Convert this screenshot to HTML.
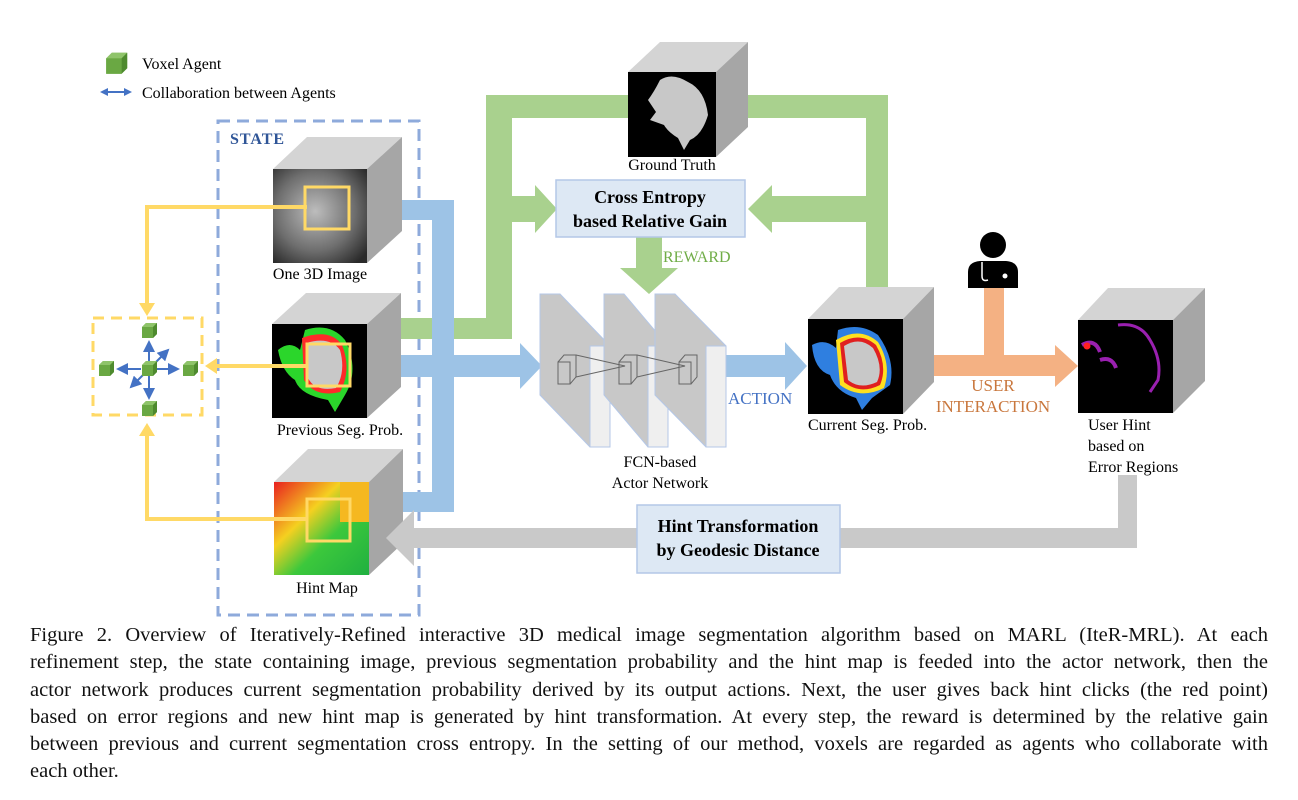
<!DOCTYPE html>
<html><head><meta charset="utf-8"><style>
body{margin:0;background:#fff;width:1298px;height:800px;overflow:hidden;position:relative;font-family:"Liberation Serif",serif}
svg{position:absolute;left:0;top:0}
.cap{position:absolute;left:30px;width:1238px;font-size:20.5px;line-height:27.3px;top:622px;color:#111}
.cap div{text-align:justify;text-align-last:justify;white-space:nowrap;overflow:visible}
.cap div.l{text-align-last:left}
</style></head><body>
<svg width="1298" height="620" viewBox="0 0 1298 620" font-family="Liberation Serif, serif">
<defs>
<g id="agent"><polygon points="-7,-4 -3,-8 8,-8 8,3 4,7 -7,7" fill="#70ad47"/><polygon points="-7,-4 -3,-8 8,-8 4,-4" fill="#8fc46a"/><polygon points="4,-4 8,-8 8,3 4,7" fill="#4e8a2e"/><rect x="-7" y="-4" width="11" height="11" fill="#6aa843"/></g>
<marker id="ba" markerWidth="6" markerHeight="6" refX="5" refY="3" orient="auto"><path d="M0,0L6,3L0,6z" fill="#4472c4"/></marker>
<marker id="bs" markerWidth="4" markerHeight="4" refX="3" refY="2" orient="auto-start-reverse"><path d="M0,0L4,2L0,4z" fill="#4472c4"/></marker>
</defs>
<!-- legend -->
<g transform="translate(116,64) scale(1.4)"><use href="#agent"/></g>
<text x="142" y="69" font-size="16">Voxel Agent</text>
<line x1="102" y1="92" x2="130" y2="92" stroke="#4472c4" stroke-width="2" marker-end="url(#bs)" marker-start="url(#bs)"/>
<text x="142" y="98" font-size="16">Collaboration between Agents</text>
<!-- STATE box -->
<rect x="218" y="121" width="201" height="494" fill="none" stroke="#8eaadb" stroke-width="3" stroke-dasharray="12,7"/>
<text x="230" y="144" font-size="16" font-weight="bold" fill="#2f5597" letter-spacing="1">STATE</text>
<!-- green flows -->
<g fill="#a9d18e">
<rect x="383" y="318" width="129" height="21"/>
<rect x="486" y="95" width="26" height="244"/>
<rect x="486" y="95" width="145" height="23"/>
<rect x="512" y="196" width="25" height="26"/>
<polygon points="535,185 557,209 535,233"/>
<rect x="716" y="95" width="172" height="23"/>
<rect x="866" y="95" width="22" height="195"/>
<rect x="770" y="196" width="96" height="26"/>
<polygon points="772,185 748,209 772,233"/>
<rect x="636" y="237" width="26" height="33"/>
<polygon points="620,268 678,268 649,294"/>
</g>
<text x="663" y="262" font-size="16" fill="#70ad47">REWARD</text>
<!-- blue flows -->
<g fill="#9dc3e6">
<rect x="383" y="200" width="71" height="20"/>
<rect x="432" y="200" width="22" height="312"/>
<rect x="383" y="492" width="71" height="20"/>
<rect x="383" y="355" width="140" height="22"/>
<polygon points="520,343 542,366 520,389"/>
<rect x="726" y="355" width="62" height="22"/>
<polygon points="785,342 807,366 785,390"/>
</g>
<text x="728" y="404" font-size="17" fill="#4472c4">ACTION</text>
<!-- gray return -->
<g fill="#c9c9c9">
<rect x="1118" y="475" width="19" height="73"/>
<rect x="412" y="528" width="725" height="20"/>
</g>
<rect x="637" y="505" width="203" height="68" fill="#dde8f4" stroke="#b4c7e7" stroke-width="1.5"/>
<text x="738" y="532" font-size="18" font-weight="bold" text-anchor="middle">Hint Transformation</text>
<text x="738" y="556" font-size="18" font-weight="bold" text-anchor="middle">by Geodesic Distance</text>
<!-- CE box -->
<rect x="556" y="180" width="189" height="57" fill="#dde8f4" stroke="#b4c7e7" stroke-width="1.5"/>
<text x="650" y="203" font-size="18" font-weight="bold" text-anchor="middle">Cross Entropy</text>
<text x="650" y="227" font-size="18" font-weight="bold" text-anchor="middle">based Relative Gain</text>
<!-- orange -->
<g fill="#f4b183">
<rect x="984" y="287" width="20" height="70"/>
<rect x="925" y="355" width="134" height="21"/>
<polygon points="1055,345 1078,366 1055,387"/>
</g>
<text x="993" y="391" font-size="17" fill="#c9773d" text-anchor="middle">USER</text>
<text x="993" y="412" font-size="17" fill="#c9773d" text-anchor="middle">INTERACTION</text>
<!-- doctor -->
<circle cx="993" cy="245" r="13" fill="#000"/>
<path d="M968,288 L968,272 Q968,262 980,261 L1006,261 Q1018,262 1018,272 L1018,288 Z" fill="#000"/>
<path d="M982,262 L982,276 Q982,282 988,280" fill="none" stroke="#fff" stroke-width="1.5"/>
<circle cx="1005" cy="276" r="2.5" fill="#fff"/>
<!-- Cube 1 -->
<g>
<polygon points="273,169 307,137 402,137 367,169" fill="#d4d4d4"/>
<polygon points="367,169 402,137 402,231 367,263" fill="#a6a6a6"/>
<defs><radialGradient id="g1" cx="0.45" cy="0.45" r="0.7"><stop offset="0" stop-color="#bdbdbd"/><stop offset="0.6" stop-color="#6e6e6e"/><stop offset="1" stop-color="#2a2a2a"/></radialGradient></defs>
<rect x="273" y="169" width="94" height="94" fill="url(#g1)"/>
<rect x="305" y="187" width="44" height="42" fill="none" stroke="#ffd966" stroke-width="3"/>
</g>
<text x="320" y="279" font-size="16" text-anchor="middle">One 3D Image</text>
<!-- Cube 2 -->
<g>
<polygon points="272,324 306,293 401,293 367,324" fill="#d4d4d4"/>
<polygon points="367,324 401,293 401,387 367,418" fill="#a6a6a6"/>
<rect x="272" y="324" width="95" height="94" fill="#000"/>
<path d="M278,350 Q290,340 300,350 L305,330 Q330,322 345,340 Q360,370 345,395 L335,412 L328,400 Q300,395 295,380 Q282,372 278,350Z" fill="#2bd62b"/>
<path d="M302,338 Q330,328 342,345 Q352,370 340,392 Q315,398 304,380 Z" fill="#ff2a2a"/>
<path d="M306,343 Q330,336 340,350 Q346,372 336,388 Q315,392 308,378 Z" fill="#c8c8c8"/>
<rect x="307" y="344" width="43" height="42" fill="none" stroke="#ffd966" stroke-width="3"/>
</g>
<text x="340" y="435" font-size="16" text-anchor="middle">Previous Seg. Prob.</text>
<!-- Cube 3 -->
<g>
<polygon points="274,482 308,449 403,449 369,482" fill="#d4d4d4"/>
<polygon points="369,482 403,449 403,543 369,575" fill="#a6a6a6"/>
<defs><linearGradient id="g3" x1="0" y1="0" x2="1" y2="1"><stop offset="0" stop-color="#e82020"/><stop offset="0.35" stop-color="#f5d020"/><stop offset="0.6" stop-color="#3cc83c"/><stop offset="1" stop-color="#20b040"/></linearGradient></defs>
<rect x="274" y="482" width="95" height="93" fill="url(#g3)"/>
<rect x="340" y="482" width="29" height="40" fill="#f5b820"/>
<rect x="307" y="499" width="43" height="42" fill="none" stroke="#ffd966" stroke-width="3"/>
</g>
<polygon points="414,510 386,538 414,566" fill="#c9c9c9"/>
<text x="327" y="593" font-size="16" text-anchor="middle">Hint Map</text>
<!-- yellow links -->
<g stroke="#ffd966" stroke-width="4" fill="none">
<polyline points="307,207 147,207 147,305"/>
<line x1="307" y1="366" x2="215" y2="366"/>
<polyline points="307,519 147,519 147,434"/>
</g>
<g fill="#ffd966">
<polygon points="139,303 155,303 147,316"/>
<polygon points="217,358 217,374 205,366"/>
<polygon points="139,436 155,436 147,423"/>
</g>
<rect x="93" y="318" width="109" height="97" fill="none" stroke="#ffd966" stroke-width="3" stroke-dasharray="11,7"/>
<!-- agents -->
<g stroke="#4472c4" stroke-width="2" marker-end="url(#ba)">
<line x1="149" y1="362" x2="149" y2="342"/>
<line x1="149" y1="376" x2="149" y2="398"/>
<line x1="141" y1="369" x2="118" y2="369"/>
<line x1="157" y1="369" x2="178" y2="369"/>
<line x1="155" y1="363" x2="168" y2="350"/>
<line x1="143" y1="375" x2="131" y2="387"/>
</g>
<use href="#agent" x="149" y="369"/>
<use href="#agent" x="149" y="331"/>
<use href="#agent" x="149" y="409"/>
<use href="#agent" x="106" y="369"/>
<use href="#agent" x="190" y="369"/>
<!-- FCN slabs -->
<g stroke="#b4c7e7" stroke-width="1">
<g><polygon points="540,294 560,294 610,346 610,447 590,447 540,395" fill="#c8c8c8"/><rect x="590" y="346" width="20" height="101" fill="#efefef"/></g>
<g><polygon points="604,294 624,294 668,346 668,447 648,447 604,395" fill="#c8c8c8"/><rect x="648" y="346" width="20" height="101" fill="#efefef"/></g>
<g><polygon points="655,294 675,294 726,346 726,447 706,447 655,395" fill="#c8c8c8"/><rect x="706" y="346" width="20" height="101" fill="#efefef"/></g>
</g>
<g fill="none" stroke="#666" stroke-width="1">
<rect x="558" y="362" width="12" height="22"/><polyline points="558,362 564,355 576,355 576,377 570,384"/>
<rect x="619" y="362" width="12" height="22"/><polyline points="619,362 625,355 637,355 637,377 631,384"/>
<rect x="679" y="362" width="12" height="22"/><polyline points="679,362 685,355 697,355 697,377 691,384"/>
<polyline points="576,355 625,366 576,377"/><polyline points="637,355 685,366 637,377"/>
</g>
<text x="660" y="467" font-size="16" text-anchor="middle">FCN-based</text>
<text x="660" y="488" font-size="16" text-anchor="middle">Actor Network</text>
<!-- Ground truth -->
<g>
<polygon points="628,72 660,42 748,42 716,72" fill="#d4d4d4"/>
<polygon points="716,72 748,42 748,127 716,157" fill="#a6a6a6"/>
<rect x="628" y="72" width="88" height="85" fill="#000"/>
<path d="M660,80 Q672,72 688,82 Q705,90 708,115 Q702,135 690,140 L684,150 L678,138 Q668,132 664,125 L650,120 L656,112 L648,100 Q654,92 660,80Z" fill="#c8c8c8"/>
</g>
<text x="672" y="170" font-size="16" text-anchor="middle">Ground Truth</text>
<!-- Current seg -->
<g>
<polygon points="808,319 839,287 934,287 903,319" fill="#d4d4d4"/>
<polygon points="903,319 934,287 934,382 903,414" fill="#a6a6a6"/>
<rect x="808" y="319" width="95" height="95" fill="#000"/>
<path d="M812,345 Q825,338 836,348 L838,330 Q860,322 878,335 Q896,360 890,385 L872,398 L862,410 L856,398 Q836,392 830,375 Q814,370 812,345Z" fill="#2f7fe0"/>
<path d="M836,340 Q860,326 878,342 Q892,365 884,388 Q860,400 840,385 Z" fill="#ffe020"/>
<path d="M840,343 Q860,331 876,345 Q888,366 880,385 Q860,395 844,382 Z" fill="#e02020"/>
<path d="M844,346 Q860,336 873,348 Q884,367 877,382 Q860,390 848,380 Z" fill="#c8c8c8"/>
</g>
<text x="808" y="430" font-size="16">Current Seg. Prob.</text>
<!-- User hint -->
<g>
<polygon points="1078,320 1108,288 1205,288 1173,320" fill="#d4d4d4"/>
<polygon points="1173,320 1205,288 1205,381 1173,413" fill="#a6a6a6"/>
<rect x="1078" y="320" width="95" height="93" fill="#000"/>
<path d="M1118,325 Q1140,322 1150,340 Q1162,360 1158,380 L1150,392" fill="none" stroke="#9a20b0" stroke-width="3"/>
<path d="M1082,345 Q1095,338 1100,352 M1100,360 Q1112,356 1116,368" fill="none" stroke="#9a20b0" stroke-width="4"/>
<circle cx="1087" cy="346" r="3.5" fill="#ff2020"/>
</g>
<text x="1088" y="430" font-size="16">User Hint</text>
<text x="1088" y="451" font-size="16">based on</text>
<text x="1088" y="472" font-size="16">Error Regions</text>
</svg>
<div class="cap">
<div>Figure 2. Overview of Iteratively-Refined interactive 3D medical image segmentation algorithm based on MARL (IteR-MRL). At each</div>
<div>refinement step, the state containing image, previous segmentation probability and the hint map is feeded into the actor network, then the</div>
<div>actor network produces current segmentation probability derived by its output actions. Next, the user gives back hint clicks (the red point)</div>
<div>based on error regions and new hint map is generated by hint transformation. At every step, the reward is determined by the relative gain</div>
<div>between previous and current segmentation cross entropy. In the setting of our method, voxels are regarded as agents who collaborate with</div>
<div class="l">each other.</div>
</div>
</body></html>
